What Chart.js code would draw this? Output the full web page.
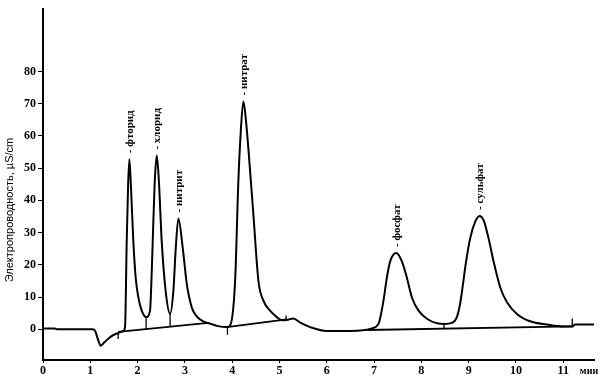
<!DOCTYPE html>
<html><head><meta charset="utf-8">
<script src="https://cdn.jsdelivr.net/npm/chart.js@4.4.1/dist/chart.umd.min.js"></script>
<style>html,body{margin:0;padding:0;background:#fff}#wrap{width:605px;height:382px;position:relative}</style>
</head><body><div id="wrap"><canvas id="c"></canvas></div>
<script>
// Chromatogram (time, min -> conductivity, µS/cm)
const times = [0.00,0.25,0.30,1.05,1.10,1.16,1.22,1.30,1.42,1.56,1.69,1.735,1.77,1.80,1.826,1.86,1.91,1.96,2.016,2.087,2.18,
  2.263,2.29,2.32,2.36,2.405,2.45,2.51,2.60,2.687,2.757,2.807,2.862,2.955,3.04,3.146,3.25,3.40,3.53,3.70,3.886,
  3.956,4.062,4.13,4.18,4.237,4.29,4.343,4.449,4.555,4.66,4.80,4.944,5.05,5.18,5.29,5.45,5.65,6.00,6.35,6.85,6.95,
  7.093,7.199,7.27,7.34,7.468,7.588,7.694,7.80,7.94,8.117,8.329,8.50,8.64,8.71,8.76,8.82,8.88,8.93,9.033,9.139,
  9.23,9.315,9.42,9.526,9.668,9.81,10.02,10.30,10.656,11.007,11.19,11.25,11.36,11.65];
const conductivity = [0.3,0.3,0.0,0.0,-0.4,-3.0,-5.1,-4.0,-2.4,-1.3,-0.6,0.8,27.3,45,52.8,44,27.3,16,9.9,5.8,3.8,
  5.8,14,27.3,45,53.9,46,27.3,11,4.8,12,25.2,34.4,25.2,14.1,6.8,4.0,2.4,1.8,1.0,0.7,
  1.2,15,45.7,61,70.7,65,55.9,35.5,15,8.9,5.8,3.8,2.8,3.0,3.4,2.0,0.7,-0.5,-0.5,-0.1,0.3,
  1.7,8.9,16,21.1,23.7,21.1,16,9.9,5.8,3.3,1.9,1.7,2.0,2.7,4.2,8.0,14,19.5,28.3,33.4,
  35.2,33.9,28.3,21.1,13,8.4,4.8,2.5,1.5,0.9,0.9,1.5,1.5,1.5];

// Integration baselines (start/end time, start/end value)
const baselineStartTimes = [1.59, 3.886, 6.85];
const baselineEndTimes   = [3.49, 5.155, 11.2];
const baselineStartVals  = [-0.8, 0.7, -0.2];
const baselineEndVals    = [2.0, 3.1, 0.9];

// Peak separation marks (time, from value, to value)
const markTimes = [1.59, 2.18, 2.687, 3.90, 5.14, 8.48, 11.19];
const markFrom  = [-0.8, 3.8, 4.8, 0.7, 2.8, 1.7, 0.9];
const markTo    = [-3.0, 0.1, 0.8, -1.7, 4.3, 0.2, 3.4];

// Peak labels
const peakNames   = ['фторид','хлорид','нитрит','нитрат','фосфат','сульфат'];
const peakTimes   = [1.826, 2.405, 2.862, 4.237, 7.468, 9.23];
const peakHeights = [52.8, 53.9, 34.4, 70.7, 23.7, 35.2];

const xTicks = [0,1,2,3,4,5,6,7,8,9,10,11];
const yTicks = [0,10,20,30,40,50,60,70,80];
const yTitle = 'Электропроводность, µS/cm';
const xUnit = 'мин';

const lineStyle = {borderColor:'#000', borderWidth:2, pointRadius:0, fill:false};
const datasets = [];
datasets.push(Object.assign({data: times.map((t,i)=>({x:t,y:conductivity[i]})), cubicInterpolationMode:'monotone'}, lineStyle));
baselineStartTimes.forEach((t,i)=>{
  datasets.push(Object.assign({}, lineStyle, {data:[{x:t,y:baselineStartVals[i]},{x:baselineEndTimes[i],y:baselineEndVals[i]}], borderWidth:1.8}));
});
markTimes.forEach((t,i)=>{
  datasets.push(Object.assign({}, lineStyle, {data:[{x:t,y:markFrom[i]},{x:t,y:markTo[i]}], borderWidth:1.3}));
});

const serif = '"Liberation Serif", "DejaVu Serif", serif';
const annot = {
  id:'annot',
  afterDatasetsDraw(chart){
    const {ctx, scales:{x,y}} = chart;
    ctx.save();
    ctx.fillStyle = '#000';
    ctx.font = 'bold 11px ' + serif;
    ctx.textAlign = 'left';
    ctx.textBaseline = 'middle';
    peakNames.forEach((n,i)=>{
      const px = x.getPixelForValue(peakTimes[i]);
      const py = y.getPixelForValue(peakHeights[i]) - 6;
      ctx.save();
      ctx.translate(px+0.5, py);
      ctx.rotate(-Math.PI/2);
      ctx.fillText('- ' + n, 0, 0);
      ctx.restore();
    });
    // y title
    ctx.save();
    ctx.font = '11px "Liberation Sans", Arial, sans-serif';
    ctx.textAlign = 'center';
    ctx.translate(10, 210);
    ctx.rotate(-Math.PI/2);
    ctx.fillText(yTitle, 0, 0);
    ctx.restore();
    // x unit
    ctx.font = 'bold 10px ' + serif;
    ctx.textAlign = 'center';
    ctx.fillText(xUnit, 589, 371);
    ctx.restore();
  }
};

new Chart(document.getElementById('c'), {
  type:'line',
  data:{datasets},
  options:{
    responsive:true, maintainAspectRatio:false, animation:false,
    layout:{padding:{left:0, top:5, right:11, bottom:0}},
    plugins:{legend:{display:false}, tooltip:{enabled:false}},
    scales:{
      x:{type:'linear', min:0, max:11.65,
        afterBuildTicks:s=>{s.ticks = xTicks.map(v=>({value:v}));},
        afterFit:s=>{s.height = 22;},
        grid:{display:true, drawOnChartArea:false, drawTicks:true, tickLength:3, color:'#000', lineWidth:1},
        border:{display:true, color:'#000', width:2},
        ticks:{color:'#000', font:{family:serif, size:12, weight:'bold'}, padding:1, maxRotation:0, autoSkip:false}
      },
      y:{type:'linear', min:-9.5, max:99.3,
        afterBuildTicks:s=>{s.ticks = yTicks.map(v=>({value:v}));},
        afterFit:s=>{s.width = 43;},
        grid:{display:true, drawOnChartArea:false, drawTicks:true, tickLength:5, color:'#000', lineWidth:1},
        border:{display:true, color:'#000', width:2},
        ticks:{color:'#000', font:{family:serif, size:12, weight:'bold'}, padding:2, autoSkip:false}
      }
    }
  },
  plugins:[annot]
});
</script>
</body></html>
